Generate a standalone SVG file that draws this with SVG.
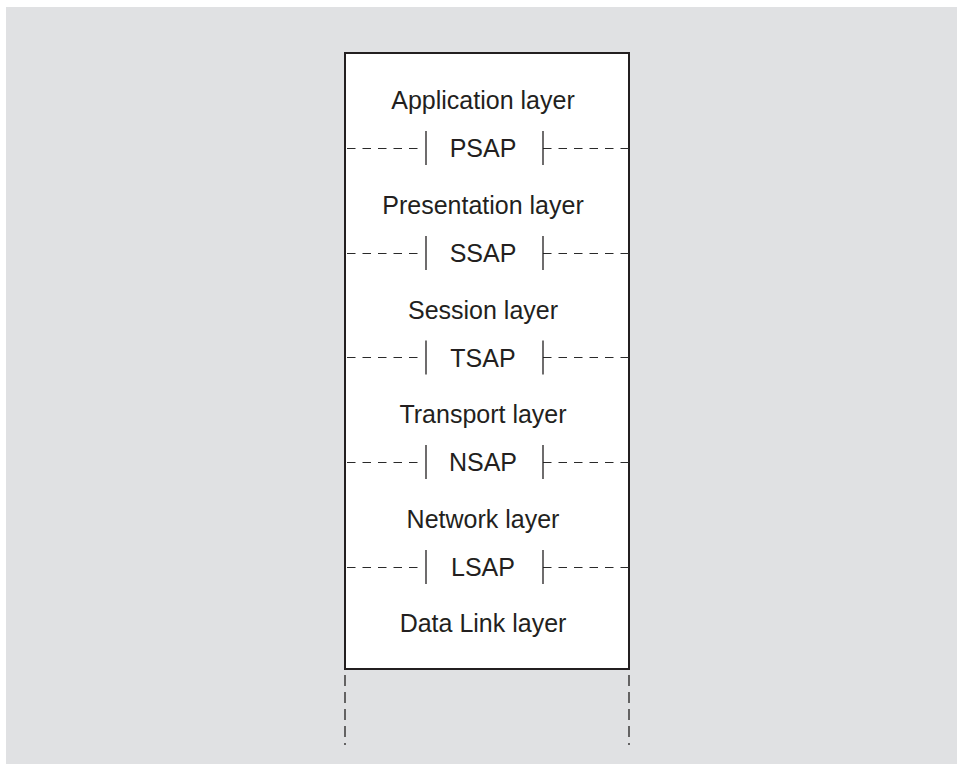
<svg xmlns="http://www.w3.org/2000/svg" width="959" height="764" viewBox="0 0 959 764">
<style>
.lbl{font-family:"Liberation Sans",Arial,Helvetica,sans-serif;font-size:25px;fill:#231f20;text-anchor:middle}
.dash{stroke:#2a2a2a;stroke-width:1.2;stroke-dasharray:8.5 7;fill:none}
.bar{stroke:#231f20;stroke-width:1.3;fill:none}
</style>
<rect x="0" y="0" width="959" height="764" fill="#ffffff"/>
<rect x="6" y="7" width="951" height="757" fill="#e0e1e3"/>
<g id="stack">
<rect x="345" y="53" width="284" height="616" fill="#ffffff" stroke="#231f20" stroke-width="2"/>
</g>
<g id="layers">
<g id="application"><text class="lbl" x="483" y="109">Application layer</text></g>
<g id="presentation"><text class="lbl" x="483" y="214">Presentation layer</text></g>
<g id="session"><text class="lbl" x="483" y="318.5">Session layer</text></g>
<g id="transport"><text class="lbl" x="483" y="423">Transport layer</text></g>
<g id="network"><text class="lbl" x="483" y="528">Network layer</text></g>
<g id="datalink"><text class="lbl" x="483" y="632">Data Link layer</text></g>
</g>
<g id="saps">
<g id="psap"><text class="lbl" x="483" y="157">PSAP</text></g>
<g id="ssap"><text class="lbl" x="483" y="262">SSAP</text></g>
<g id="tsap"><text class="lbl" x="483" y="366.5">TSAP</text></g>
<g id="nsap"><text class="lbl" x="483" y="471">NSAP</text></g>
<g id="lsap"><text class="lbl" x="483" y="576">LSAP</text></g>
</g>
<g id="connectors">
<g id="psap-lines"><path class="dash" d="M347 148.5H420M543 148.5H629"/><path class="bar" d="M426 131V165M543 131V165"/></g>
<g id="ssap-lines"><path class="dash" d="M347 253.5H420M543 253.5H629"/><path class="bar" d="M426 236V270M543 236V270"/></g>
<g id="tsap-lines"><path class="dash" d="M347 357.5H420M543 357.5H629"/><path class="bar" d="M426 340.5V374.5M543 340.5V374.5"/></g>
<g id="nsap-lines"><path class="dash" d="M347 462.5H420M543 462.5H629"/><path class="bar" d="M426 445V479M543 445V479"/></g>
<g id="lsap-lines"><path class="dash" d="M347 567.5H420M543 567.5H629"/><path class="bar" d="M426 550V584M543 550V584"/></g>
<path class="bar" d="M345 675V745M629 675V745" stroke-dasharray="11 6"/>
</g>
</svg>
